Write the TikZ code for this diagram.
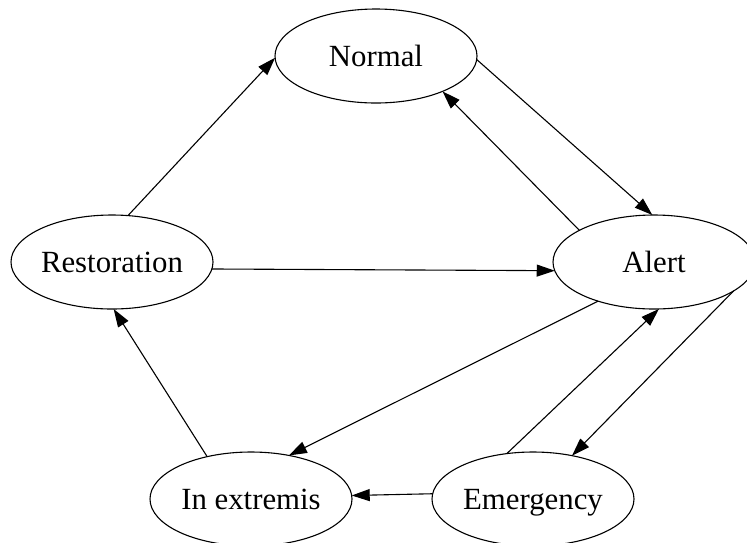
\documentclass[tikz,border=0pt]{standalone}
\usepackage{fontspec}
\setmainfont{Liberation Serif}
\usetikzlibrary{arrows.meta,shapes.geometric}

\tikzset{
  state/.style={ellipse, draw=black, line width=1.1pt, fill=white,
    minimum width=202pt, minimum height=94pt, inner sep=0pt, outer sep=0pt,
    font=\fontsize{30.8}{36}\selectfont, text height=20pt, text depth=0pt},
  trans/.style={draw=black, line width=1.1pt,
    -{Triangle[length=18pt,width=12pt]}}
}

\begin{document}
\begin{tikzpicture}[x=1pt,y=-1pt]
  \fill[white] (0,0) rectangle (747,542);
  \useasboundingbox (0,0) rectangle (747,542);

  % operating states
  \node[state] (normal)  at (376,56)  {Normal};
  \node[state] (restore) at (112,262) {Restoration};
  \node[state] (alert)   at (654,262) {Alert};
  \node[state] (extrem)  at (251,499) {In extremis};
  \node[state] (emerg)   at (533,499) {Emergency};

  % transitions between states
  \draw[trans] (restore.71.6)  -- (normal.181.1);
  \draw[trans] (normal.-2.3)   -- (alert.92.4);
  \draw[trans] (alert.157.2)   -- (normal.-28.9);
  \draw[trans] (restore.-4)    -- (alert.185.1);
  \draw[trans] (alert.215.7)   -- (extrem.49.1);
  \draw[trans] (emerg.120.8)   -- (alert.-84);
  \draw[trans] (alert.-20.8)   -- (emerg.48.4);
  \draw[trans] (emerg.177.1)   -- (extrem.2.3);
  \draw[trans] (extrem.136.3)  -- (restore.-88.8);
\end{tikzpicture}
\end{document}
